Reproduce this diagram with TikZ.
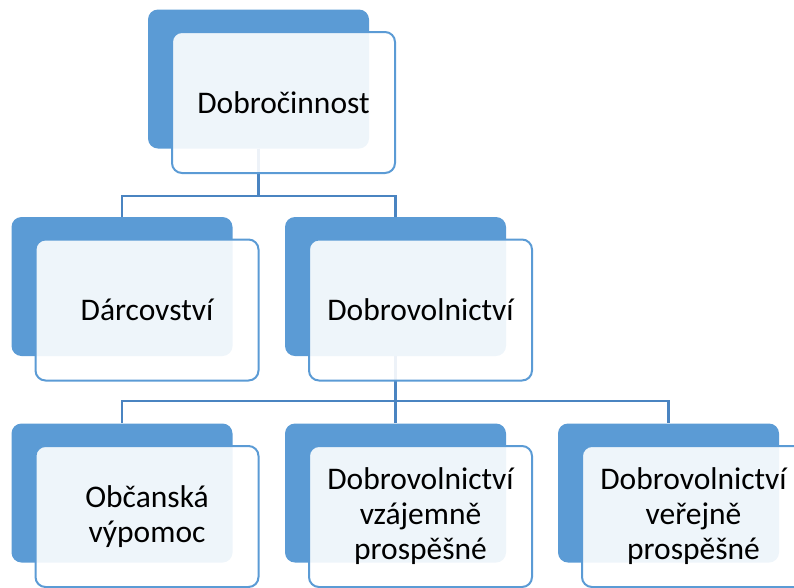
\documentclass[tikz,border=0pt]{standalone}
\usepackage{fontspec}
\setmainfont{Carlito}
\definecolor{BoxBack}{HTML}{5B9BD5}
\colorlet{BoxLine}{BoxBack}
\definecolor{Connector}{HTML}{4A84C1}
\usetikzlibrary{calc}

\tikzset{
    backbox/.style={rectangle, rounded corners=10pt, fill=BoxBack, inner sep=0pt,
        minimum width=221pt, minimum height=139pt},
    frontbox/.style={rectangle, rounded corners=10pt, draw=BoxLine, line width=2pt,
        fill=white, fill opacity=0.9, text opacity=1, inner sep=0pt,
        minimum width=223pt, minimum height=141pt, align=center,
        font=\fontsize{31.5}{35}\selectfont},
    connector/.style={draw=Connector, line width=2.2pt}
}

\begin{document}
\begin{tikzpicture}[x=1pt, y=-1pt]

    \useasboundingbox (0,0) rectangle (794,587);

    % Zadni bloky
    \node [backbox] (dobrocB) at (258.5,79) {};
    \node [backbox] (darcB) at (122,286.5) {};
    \node [backbox] (dobrovB) at (395.5,286.5) {};
    \node [backbox] (obcB) at (122,493) {};
    \node [backbox] (vzajB) at (395.5,493) {};
    \node [backbox] (verB) at (668.5,493) {};

    % Spojnice
    \coordinate (bus1) at ($(dobrocB.south)+(0,47)$);
    \draw [connector] (dobrocB.south) -- (bus1) -| (darcB.north);
    \draw [connector] (bus1) -| (dobrovB.north);

    \coordinate (bus2) at ($(dobrovB.south)+(0,45)$);
    \draw [connector] (dobrovB.south) -- (bus2) -| (obcB.north);
    \draw [connector] (bus2) -| (verB.north);
    \draw [connector] (bus2) -- (vzajB.north);

    % Predni bloky s textem
    \node [frontbox] (dobroc) at ($(dobrocB)+(25,23.5)$) {Dobročinnost};
    \node [frontbox] (darc) at ($(darcB)+(25,23.5)$) {Dárcovství};
    \node [frontbox] (dobrov) at ($(dobrovB)+(25,23.5)$) {Dobrovolnictví};
    \node [frontbox] (obc) at ($(obcB)+(25,23.5)$) {Občanská\\výpomoc};
    \node [frontbox] (vzaj) at ($(vzajB)+(25,23.5)$) {Dobrovolnictví\\vzájemně\\prospěšné};
    \node [frontbox] (ver) at ($(verB)+(25,23.5)$) {Dobrovolnictví\\veřejně\\prospěšné};

\end{tikzpicture}
\end{document}
